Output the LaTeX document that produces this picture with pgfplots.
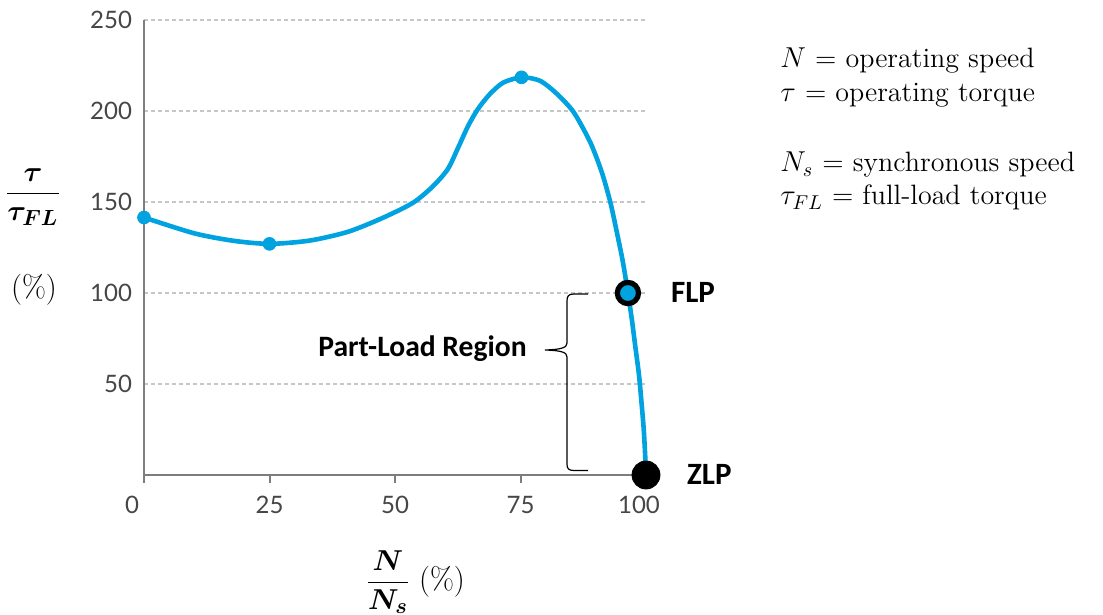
\documentclass[border=0pt]{standalone}
\usepackage{pgfplots}
\pgfplotsset{compat=1.18}
\usepackage{amsmath,bm}
\usepackage{fontspec}
\newfontfamily\tickfont{Lato}
\newfontfamily\calib{Carlito}
\definecolor{curveblue}{RGB}{0,162,224}
\definecolor{gridgray}{RGB}{198,198,198}
\definecolor{axisgray}{RGB}{125,125,125}
\definecolor{ticktext}{RGB}{70,70,70}
\begin{document}
\begin{tikzpicture}
\path[use as bounding box] (0,0) rectangle (551.5pt,-307.5pt);
\begin{axis}[
  at={(72pt,-237.5pt)}, anchor=south west,
  scale only axis, width=251pt, height=227.5pt,
  xmin=0,xmax=100,ymin=0,ymax=250,
  axis lines*=left,
  axis line style={axisgray, line width=1pt},
  xtick={0,25,50,75,100},
  xticklabels={{\makebox[0pt]{\hspace{-12pt}0}},25,50,75,{\makebox[0pt]{\hspace{-7pt}100}}},
  ytick={50,100,150,200,250},
  ymajorgrids,
  grid style={gridgray, dash pattern=on 2pt off 1.5pt, line width=0.7pt},
  tick align=outside,
  major tick length=4pt,
  xtick style={axisgray,line width=1pt},
  ytick style={draw=none},
  tick label style={font=\tickfont\fontsize{12}{12}\selectfont, text=ticktext},
  xticklabel style={yshift=-3pt},
  yticklabel style={xshift=1.5pt},
  /pgf/number format/assume math mode=true,
  clip=false,
]
\addplot[curveblue, line width=2.3pt, smooth, tension=0.45] coordinates {
(0,141.5)(10,132.8)(17.8,128.7)(25,127)(33,128.8)(40.6,133.6)(47.5,141.2)(53.6,149.6)(57.5,158.5)(60.5,168)(62.6,180)(64.6,192)(66.5,201)(68.8,209)(71.5,215.5)(75.2,218.5)(78.9,216.6)(82.3,209.3)(85.6,199.3)(88.9,182.8)(91.2,166.3)(92.9,149.8)(94.2,133.3)(95.4,117)(96.4,100)(97.2,85)(97.9,70)(98.6,55)(99.1,40)(99.55,25)(99.85,10)(99.95,3)
};
\addplot[only marks, mark=*, mark size=3.2pt, curveblue] coordinates {(0,141.5)(25,127)(75.2,218.5)};
\addplot[only marks, mark=*, mark size=5.3pt, mark options={fill=curveblue, draw=black, line width=2.6pt}] coordinates {(96.4,100)};
\addplot[only marks, mark=*, mark size=7pt, black] coordinates {(100,0)};
\end{axis}
\begin{scope}[x=0.5pt,y=-0.5pt]
\draw[line width=0.6pt] (588,294) -- (574,294) .. controls (568.5,294) and (567,296) .. (567,301) -- (567,343) .. controls (567,347.5) and (562,349.5) .. (545,350) .. controls (562,350.5) and (567,352.5) .. (567,357) -- (567,464) .. controls (567,468.5) and (568.5,470.5) .. (574,470.5) -- (588,470.5);
\node[anchor=west, inner sep=0pt, font=\calib\bfseries\fontsize{15.5}{15.5}\selectfont] at (670.7,292) {FLP};
\node[anchor=west, inner sep=0pt, font=\calib\bfseries\fontsize{15.5}{15.5}\selectfont] at (686.7,474) {ZLP};
\node[inner sep=0pt, font=\calib\bfseries\fontsize{14.8}{14.8}\selectfont] at (422.5,349) {Part-Load Region};
\node[inner sep=0pt, font=\fontsize{15.5}{18}\selectfont] at (33,197) {$\dfrac{\bm{\tau}}{\bm{\tau}_{\bm{FL}}}$};
\node[inner sep=0pt, font=\fontsize{15.5}{18}\selectfont] at (34,290) {(\%)};
\node[inner sep=0pt, font=\fontsize{15.5}{18}\selectfont] at (388,582) {$\dfrac{\bm{N}}{\bm{N}_{\bm{s}}}$};
\node[inner sep=0pt, font=\fontsize{15.5}{18}\selectfont] at (442,582) {(\%)};
\node[anchor=base west, inner sep=0pt, font=\fontsize{14}{15}\selectfont] at (780,67.3) {$N$ = operating speed};
\node[anchor=base west, inner sep=0pt, font=\fontsize{14}{15}\selectfont] at (780,101.7) {$\tau$ = operating torque};
\node[anchor=base west, inner sep=0pt, font=\fontsize{14}{15}\selectfont] at (780,171.7) {$N_s$ = synchronous speed};
\node[anchor=base west, inner sep=0pt, font=\fontsize{14}{15}\selectfont] at (780,205) {$\tau_{FL}$ = full-load torque};
\end{scope}
\end{tikzpicture}
\end{document}
